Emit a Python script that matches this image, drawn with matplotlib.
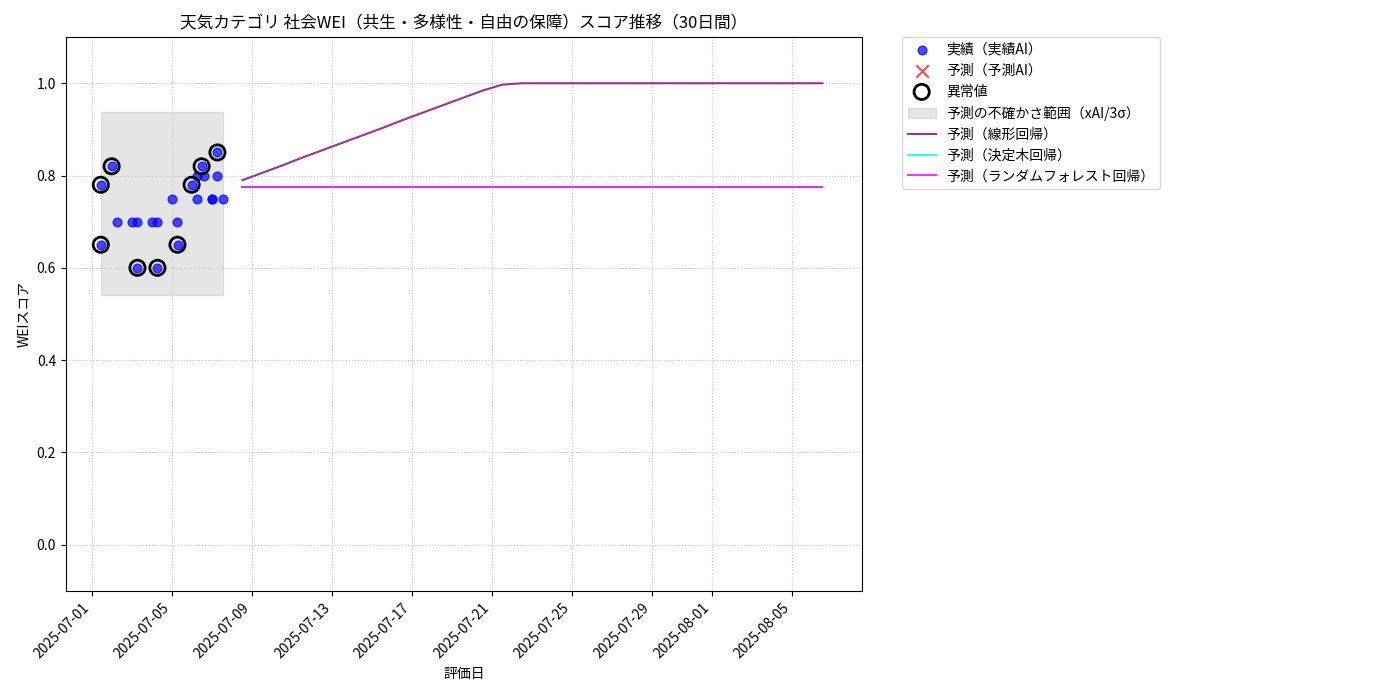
import matplotlib
matplotlib.use("Agg")
import matplotlib.pyplot as plt
import matplotlib.dates as mdates
import pandas as pd

plt.rcParams['font.family'] = ['Noto Sans CJK JP', 'DejaVu Sans']

# actual scores (hours since 2025-07-01 00:00)
act_hours = [10, 10, 23, 30, 47, 54, 54, 71, 78, 78, 95, 102, 103, 119, 126, 126, 131, 134, 143, 143, 150, 150, 157]
act_vals = [0.78, 0.65, 0.82, 0.70, 0.70, 0.70, 0.60, 0.70, 0.70, 0.60, 0.75, 0.70, 0.65, 0.78, 0.80, 0.75, 0.82, 0.80, 0.75, 0.75, 0.80, 0.85, 0.75]
out_hours = [10, 10, 23, 54, 78, 102, 119, 131, 150]
out_vals = [0.78, 0.65, 0.82, 0.60, 0.60, 0.65, 0.78, 0.82, 0.85]

pred_lin = [0.790, 0.806, 0.822, 0.839, 0.855, 0.871, 0.887, 0.903, 0.920, 0.936,
            0.952, 0.968, 0.984, 0.997, 1.0, 1.0, 1.0, 1.0, 1.0, 1.0,
            1.0, 1.0, 1.0, 1.0, 1.0, 1.0, 1.0, 1.0, 1.0, 1.0]
pred_tree = [0.775] * 30
pred_rf = [0.775] * 30

base = pd.Timestamp("2025-07-01")
act_t = [base + pd.Timedelta(hours=h) for h in act_hours]
out_t = [base + pd.Timedelta(hours=h) for h in out_hours]
pred_t = pd.date_range("2025-07-08 12:00", periods=30, freq="D")

band_lo, band_hi = 0.54, 0.937

fig = plt.figure(figsize=(14, 7), dpi=100)
ax = fig.add_axes([0.047, 0.156, 0.569, 0.791])

ax.fill_between([act_t[0], act_t[-1]], band_lo, band_hi, color="gray", alpha=0.2,
                label="予測の不確かさ範囲（xAI/3σ）")
ax.scatter(act_t, act_vals, color="blue", alpha=0.7, s=40, label="実績（実績AI）", zorder=3)
ax.scatter([], [], color="red", marker="x", s=80, alpha=0.7, label="予測（予測AI）")
ax.scatter(out_t, out_vals, facecolors="none", edgecolors="black", s=120, linewidths=2,
           label="異常値", zorder=4)
ax.plot(pred_t, pred_lin, color="purple", alpha=0.8, label="予測（線形回帰）")
ax.plot(pred_t, pred_tree, color="cyan", alpha=0.8, label="予測（決定木回帰）")
ax.plot(pred_t, pred_rf, color="magenta", alpha=0.8, label="予測（ランダムフォレスト回帰）")

ax.set_ylim(-0.1, 1.1)
ax.set_xlim(pd.Timestamp("2025-06-29 16:00"), pd.Timestamp("2025-08-08 12:00"))
ax.xaxis.set_major_locator(mdates.DayLocator(bymonthday=[1, 5, 9, 13, 17, 21, 25, 29]))
ax.xaxis.set_major_formatter(mdates.DateFormatter("%Y-%m-%d"))
plt.setp(ax.get_xticklabels(), rotation=45, ha="right")
ax.grid(True, linestyle=":", alpha=0.7)
ax.set_title("天気カテゴリ 社会WEI（共生・多様性・自由の保障）スコア推移（30日間）")
ax.set_xlabel("評価日")
ax.set_ylabel("WEIスコア")

h, l = ax.get_legend_handles_labels()
order = [l.index(s) for s in ["実績（実績AI）", "予測（予測AI）", "異常値", "予測の不確かさ範囲（xAI/3σ）",
                              "予測（線形回帰）", "予測（決定木回帰）", "予測（ランダムフォレスト回帰）"]]
ax.legend([h[i] for i in order], [l[i] for i in order], bbox_to_anchor=(1.05, 1), loc="upper left",
          borderaxespad=0.)

fig.savefig("out.png")
